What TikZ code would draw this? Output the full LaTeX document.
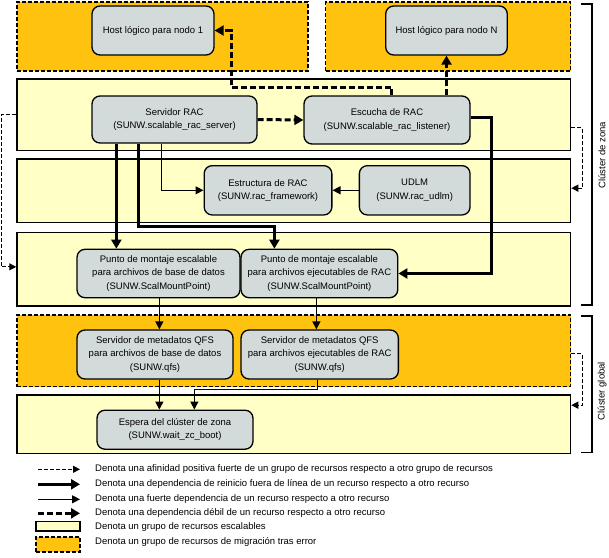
\documentclass[tikz,border=0pt]{standalone}
\usepackage{fontspec}
\setmainfont{Liberation Sans}
\usetikzlibrary{arrows.meta,calc}
\definecolor{orng}{HTML}{FFC20E}
\definecolor{ylw}{HTML}{FFFFC6}
\definecolor{gry}{HTML}{D3DADA}
\begin{document}
\begin{tikzpicture}[x=1pt,y=-1pt,
 font=\fontsize{9.5}{13.3}\selectfont,
 res/.style={draw=black,line width=1.3pt,fill=gry,rounded corners=8pt,align=center,inner sep=0pt},
 scal/.style={draw=black,line width=1.5pt,fill=ylw,inner sep=0pt},
 fail/.style={draw=black,line width=1.5pt,fill=orng,dash pattern=on 4pt off 2pt,inner sep=0pt},
 aff/.style={line width=1.2pt,dash pattern=on 4pt off 2pt,-{Triangle[length=7pt,width=7pt]}},
 offl/.style={line width=3pt,-{Triangle[length=9pt,width=10pt]}},
 strong/.style={line width=1.3pt,-{Triangle[length=8pt,width=8pt]}},
 weak/.style={line width=3pt,dash pattern=on 6pt off 3pt,-{Triangle[length=9pt,width=10pt]}},
 brk/.style={line width=1.2pt},
 lgd/.style={anchor=west,inner sep=0pt},
]
\fill[white] (0,0) rectangle (609,557);
\useasboundingbox (0,0) rectangle (609,557);

% panels
\node[fail,minimum width=291pt,minimum height=69pt] (o1) at (162.5,36.5) {};
\node[fail,minimum width=245pt,minimum height=69pt] (o2) at (448,36.5) {};
\node[scal,minimum width=553.5pt,minimum height=71.7pt] (p1) at (293.75,114.85) {};
\node[scal,minimum width=553.5pt,minimum height=63.3pt] (p2) at (293.75,190.65) {};
\node[scal,minimum width=553.5pt,minimum height=73.3pt] (p3) at (293.75,269.35) {};
\node[fail,minimum width=553.5pt,minimum height=71.7pt] (o3) at (293.75,350.85) {};
\node[scal,minimum width=553.5pt,minimum height=58.3pt] (p5) at (293.75,424.15) {};

% resources
\node[res,minimum width=122pt,minimum height=49pt] (h1) at (153,30.5) {Host lógico para nodo 1};
\node[res,minimum width=121.6pt,minimum height=49pt] (hN) at (446.5,30.5) {Host lógico para nodo N};
\node[res,minimum width=165pt,minimum height=47pt] (srv) at (174.5,119.5) {Servidor RAC\\(SUNW.scalable\_rac\_server)};
\node[res,minimum width=166pt,minimum height=48pt] (lis) at (387,120) {Escucha de RAC\\(SUNW.scalable\_rac\_listener)};
\node[res,minimum width=127.7pt,minimum height=49.3pt] (est) at (268,190.3) {Estructura de RAC\\(SUNW.rac\_framework)};
\node[res,minimum width=110.7pt,minimum height=49.3pt] (ud) at (414.7,190.3) {UDLM\\(SUNW.rac\_udlm)};
\node[res,minimum width=163pt,minimum height=48.4pt] (pd) at (158.5,273.5) {Punto de montaje escalable\\para archivos de base de datos\\(SUNW.ScalMountPoint)};
\node[res,minimum width=156.7pt,minimum height=48.4pt] (pe) at (319.4,273.5) {Punto de montaje escalable\\para archivos ejecutables de RAC\\(SUNW.ScalMountPoint)};
\node[res,minimum width=156pt,minimum height=49pt] (md) at (155,354.5) {Servidor de metadatos QFS\\para archivos de base de datos\\(SUNW.qfs)};
\node[res,minimum width=157.3pt,minimum height=49pt] (me) at (319.7,354.5) {Servidor de metadatos QFS\\para archivos ejecutables de RAC\\(SUNW.qfs)};
\node[res,minimum width=156pt,minimum height=39pt] (esp) at (175,429.7) {Espera del clúster de zona\\(SUNW.wait\_zc\_boot)};

% connectors
\draw[weak] (srv.east) -- (lis.west);
\draw[weak] (lis.north -| hN.south) -- (hN.south);
\draw[weak] ([xshift=88pt]lis.north west) |- (231,87) |- (h1.east);
\draw[strong] ([xshift=70pt]srv.south west) |- (est.west);
\draw[strong] (ud.west) -- (est.east);
\draw[offl] ([xshift=25pt]srv.south west) -- ([xshift=25pt]srv.south west |- pd.north);
\draw[offl] ([xshift=47pt]srv.south west) |- ($([xshift=34pt]pe.north west)+(0,-22)$) -- ([xshift=34pt]pe.north west);
\draw[offl] ([yshift=3pt]lis.east) -| ($(pe.east)+(93,0)$) -- (pe.east);
\draw[strong] ([xshift=83pt]pd.south west) -- ([xshift=83pt]md.north west);
\draw[strong] ([xshift=76pt]pe.south west) -- ([xshift=76pt]me.north west);
\draw[strong] ([xshift=83pt]md.south west) -- ([xshift=83pt]md.south west |- esp.north);
\draw[strong] ([xshift=77pt]me.south west) |- ($([xshift=98pt]esp.north west)+(0,-20)$) -- ([xshift=98pt]esp.north west);

% affinities
\draw[aff] ([yshift=-13pt]p1.east) -- ++(11,0) |- ([yshift=2.5pt]p2.east);
\draw[aff] ([yshift=-3pt]o3.east) -- ++(11,0) |- ([yshift=19pt]p5.east);
\draw[aff] (p1.west) -- ++(-15,0) |- ([yshift=2.5pt]p3.west);

% brackets
\coordinate (bz1) at (581,4);
\coordinate (bz2) at (581,305);
\draw[brk] (bz1) -- ++(11,0) |- (bz2);
\coordinate (bg1) at (581,316);
\coordinate (bg2) at (581,452.3);
\draw[brk] (bg1) -- ++(11,0) |- (bg2);
\node[rotate=90,inner sep=0pt] (lz) at (602,155) {Clúster de zona};
\node[rotate=90,inner sep=0pt] (lg) at (602,391) {Clúster global};

% legend
\coordinate (a1) at (38,469.3); \coordinate (b1) at (80,469.3);
\coordinate (a2) at (38,484.3); \coordinate (b2) at (80,484.3);
\coordinate (a3) at (38,499.3); \coordinate (b3) at (80,499.3);
\coordinate (a4) at (38,513.3); \coordinate (b4) at (80,513.3);
\draw[aff] (a1) -- (b1);
\draw[offl] (a2) -- (b2);
\draw[strong] (a3) -- (b3);
\draw[weak] (a4) -- (b4);
\node[scal,minimum width=44pt,minimum height=9.3pt] (ly) at (58,526.3) {};
\node[fail,minimum width=44pt,minimum height=15pt] (lo) at (58,544.5) {};
\node[lgd] (t1) at (95,469.3) {Denota una afinidad positiva fuerte de un grupo de recursos respecto a otro grupo de recursos};
\node[lgd] (t2) at (95,484.3) {Denota una dependencia de reinicio fuera de línea de un recurso respecto a otro recurso};
\node[lgd] (t3) at (95,499.3) {Denota una fuerte dependencia de un recurso respecto a otro recurso};
\node[lgd] (t4) at (95,513.3) {Denota una dependencia débil de un recurso respecto a otro recurso};
\node[lgd] (t5) at (95,527) {Denota un grupo de recursos escalables};
\node[lgd] (t6) at (95,542) {Denota un grupo de recursos de migración tras error};
\end{tikzpicture}
\end{document}
